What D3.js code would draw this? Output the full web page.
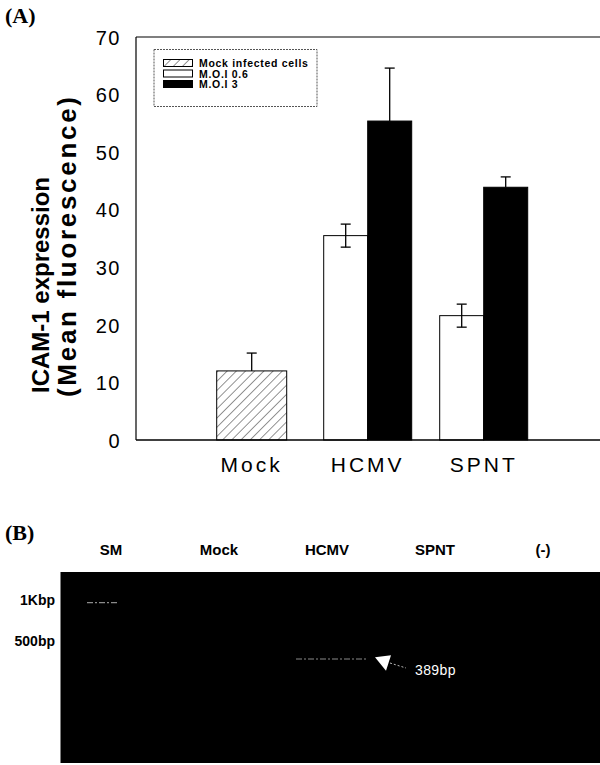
<!DOCTYPE html>
<html>
<head>
<meta charset="utf-8">
<script src="https://cdn.jsdelivr.net/npm/d3@7/dist/d3.min.js"></script>
<style>
  html, body { margin: 0; padding: 0; background: #fff; }
  svg { display: block; }
</style>
</head>
<body>
<svg id="chart" width="600" height="765"></svg>
<script>
// ---------------- data ----------------
const categories = ["Mock", "HCMV", "SPNT"];
const seriesNames = ["Mock infected cells", "M.O.I 0.6", "M.O.I 3"];
const mockValues = [12.0, null, null];
const mockErrors = [3.1, null, null];
const moi06Values = [null, 35.5, 21.6];
const moi06Errors = [null, 2.0, 2.0];
const moi3Values = [null, 55.4, 43.9];
const moi3Errors = [null, 9.2, 1.8];
const yTicks = [0, 10, 20, 30, 40, 50, 60, 70];

const lanes = ["SM", "Mock", "HCMV", "SPNT", "(-)"];
const markerLabels = ["1Kbp", "500bp"];
const markerSizes = [1000, 500];
const gelBandLanes = ["SM", "HCMV"];
const gelBandSizes = [1000, 389];
const productLabel = "389bp";

// ---------------- layout ----------------
const svg = d3.select("#chart");
const pLeft = 136, pRight = 600, pTop = 37, pBottom = 440;

const y = d3.scaleLinear().domain([0, 70]).range([pBottom, pTop]);
const x = d3.scaleBand().domain(categories).range([193.7, 541.7]);

// hatch pattern
const defs = svg.append("defs");
const pat = defs.append("pattern")
  .attr("id", "hatch").attr("patternUnits", "userSpaceOnUse")
  .attr("width", 6.5).attr("height", 6.5)
  .attr("patternTransform", "rotate(45)");
pat.append("rect").attr("width", 6.5).attr("height", 6.5).attr("fill", "#fff");
pat.append("line").attr("x1", 0).attr("y1", 0).attr("x2", 0).attr("y2", 6.5)
  .attr("stroke", "#111").attr("stroke-width", 0.9);

// panel label
svg.append("text").attr("x", 5).attr("y", 23)
  .attr("font-family", "Liberation Serif, Times New Roman, serif")
  .attr("font-weight", "bold").attr("font-size", 22).text("(A)");

// frame lines
svg.append("line").attr("x1", pLeft).attr("x2", pRight).attr("y1", pTop).attr("y2", pTop)
  .attr("stroke", "#000").attr("stroke-width", 1.2);
svg.append("line").attr("x1", pLeft).attr("x2", pLeft).attr("y1", pTop).attr("y2", pBottom)
  .attr("stroke", "#000").attr("stroke-width", 1.2);

// y axis via d3 axis (no tick marks)
const yAxis = d3.axisLeft(y).tickValues(yTicks).tickSize(0).tickPadding(0);
const ya = svg.append("g").attr("transform", `translate(121,0)`).call(yAxis);
ya.select(".domain").remove();
ya.selectAll("text")
  .attr("font-family", "Liberation Sans, Arial, sans-serif")
  .attr("font-size", 20).attr("fill", "#000")
  .attr("letter-spacing", 1.5).attr("dy", "0.36em");

// y title
const yt = svg.append("g").attr("font-family", "Liberation Sans, Arial, sans-serif")
  .attr("font-weight", "bold");
yt.append("text").attr("transform", "translate(49,285) rotate(-90)")
  .attr("font-size", 24)
  .attr("text-anchor", "middle").text("ICAM-1 expression");
yt.append("text").attr("transform", "translate(76,247) rotate(-90)")
  .attr("font-size", 26)
  .attr("text-anchor", "middle")
  .attr("textLength", 300).attr("lengthAdjust", "spacing")
  .text("(Mean fluorescence)");

// bars
const mockW = 70, pairW = 44;
function errBar(cx, yTop, yBot, capBottom) {
  svg.append("line").attr("x1", cx).attr("x2", cx).attr("y1", yTop).attr("y2", yBot)
    .attr("stroke", "#000").attr("stroke-width", 1.3);
  svg.append("line").attr("x1", cx - 5).attr("x2", cx + 5).attr("y1", yTop).attr("y2", yTop)
    .attr("stroke", "#000").attr("stroke-width", 1.3);
  if (capBottom) {
    svg.append("line").attr("x1", cx - 5).attr("x2", cx + 5).attr("y1", yBot).attr("y2", yBot)
      .attr("stroke", "#000").attr("stroke-width", 1.3);
  }
}
function drawBars(values, errors, offset, width, fill, capsBoth) {
  values.forEach((v, i) => {
    if (v == null) return;
    const cx = x(categories[i]) + x.bandwidth() / 2 + offset;
    const e = errors[i];
    if (e != null && !capsBoth) errBar(cx, y(v + e), y(v), false);
    svg.append("rect")
      .attr("x", cx - width / 2).attr("y", y(v))
      .attr("width", width).attr("height", y(0) - y(v))
      .attr("fill", fill).attr("stroke", "#000").attr("stroke-width", 1);
    if (e != null && capsBoth) errBar(cx, y(v + e), y(v - e), true);
  });
}
drawBars(mockValues, mockErrors, 0, mockW, "url(#hatch)", false);
drawBars(moi06Values, moi06Errors, -pairW / 2, pairW, "#fff", true);
drawBars(moi3Values, moi3Errors, pairW / 2, pairW, "#000", false);

// bottom axis line (over bars)
svg.append("line").attr("x1", pLeft).attr("x2", pRight).attr("y1", pBottom).attr("y2", pBottom)
  .attr("stroke", "#000").attr("stroke-width", 1.5);

// x labels
const xAxis = d3.axisBottom(x).tickSize(0).tickPadding(0);
const xa = svg.append("g").attr("transform", `translate(0,${pBottom})`).call(xAxis);
xa.select(".domain").remove();
xa.selectAll("text")
  .attr("font-family", "Liberation Sans, Arial, sans-serif")
  .attr("font-size", 21).attr("fill", "#000")
  .attr("letter-spacing", 3).attr("dy", 0).attr("y", 31.5);

// legend
const lg = svg.append("g");
lg.append("rect").attr("x", 154).attr("y", 49.5).attr("width", 163).attr("height", 57)
  .attr("fill", "#fff").attr("stroke", "#555").attr("stroke-width", 1)
  .attr("stroke-dasharray", "2,1");
const legendFills = ["url(#hatch)", "#fff", "#000"];
seriesNames.forEach((name, i) => {
  const ry = 59.5 + i * 10.5;
  lg.append("rect").attr("x", 163.5).attr("y", ry).attr("width", 29).attr("height", 7)
    .attr("fill", legendFills[i]).attr("stroke", "#000").attr("stroke-width", 1);
  lg.append("text").attr("x", 199).attr("y", ry + 7.5)
    .attr("font-family", "Liberation Sans, Arial, sans-serif")
    .attr("font-weight", "bold").attr("font-size", 10.5)
    .attr("letter-spacing", 0.7).text(name);
});

// ---------------- panel B: gel ----------------
svg.append("text").attr("x", 5).attr("y", 540)
  .attr("font-family", "Liberation Serif, Times New Roman, serif")
  .attr("font-weight", "bold").attr("font-size", 22).text("(B)");

const laneX = d3.scalePoint().domain(lanes).range([111, 543]);
svg.append("g").selectAll("text").data(lanes).join("text")
  .attr("x", d => laneX(d)).attr("y", 555).attr("text-anchor", "middle")
  .attr("font-family", "Liberation Sans, Arial, sans-serif")
  .attr("font-weight", "bold").attr("font-size", 15).text(d => d);

svg.append("rect").attr("x", 60.5).attr("y", 572).attr("width", 540).attr("height", 191)
  .attr("fill", "#000");

const bpY = d3.scaleLog().domain([1000, 389]).range([602.7, 659]);
svg.append("g").selectAll("text").data(markerLabels).join("text")
  .attr("x", 55).attr("y", (d, i) => bpY(markerSizes[i]) + 2)
  .attr("text-anchor", "end")
  .attr("font-family", "Liberation Sans, Arial, sans-serif")
  .attr("font-weight", "bold").attr("font-size", 14).text(d => d);

const bandW = [32, 70];
const bandOff = [-8, 4];
gelBandLanes.forEach((ln, i) => {
  const cx = laneX(ln) + bandOff[i];
  svg.append("line")
    .attr("x1", cx - bandW[i] / 2).attr("x2", cx + bandW[i] / 2)
    .attr("y1", bpY(gelBandSizes[i])).attr("y2", bpY(gelBandSizes[i]))
    .attr("stroke", "#8a8a8a").attr("stroke-width", 1.2)
    .attr("stroke-dasharray", "6,2,2,2");
});

// arrow pointing to product band
const ay = bpY(389);
svg.append("path")
  .attr("d", `M375,${ay - 1.7}L391,${ay - 3.7}L386,${ay + 11.7}Z`)
  .attr("fill", "#fff");
svg.append("line").attr("x1", 390).attr("x2", 406).attr("y1", ay + 4).attr("y2", ay + 9)
  .attr("stroke", "#bbb").attr("stroke-width", 1).attr("stroke-dasharray", "2,2");
svg.append("text").attr("x", 415).attr("y", ay + 16)
  .attr("font-family", "Liberation Sans, Arial, sans-serif")
  .attr("font-size", 14).attr("letter-spacing", 0.4)
  .attr("fill", "#fff").text(productLabel);
</script>
</body>
</html>
